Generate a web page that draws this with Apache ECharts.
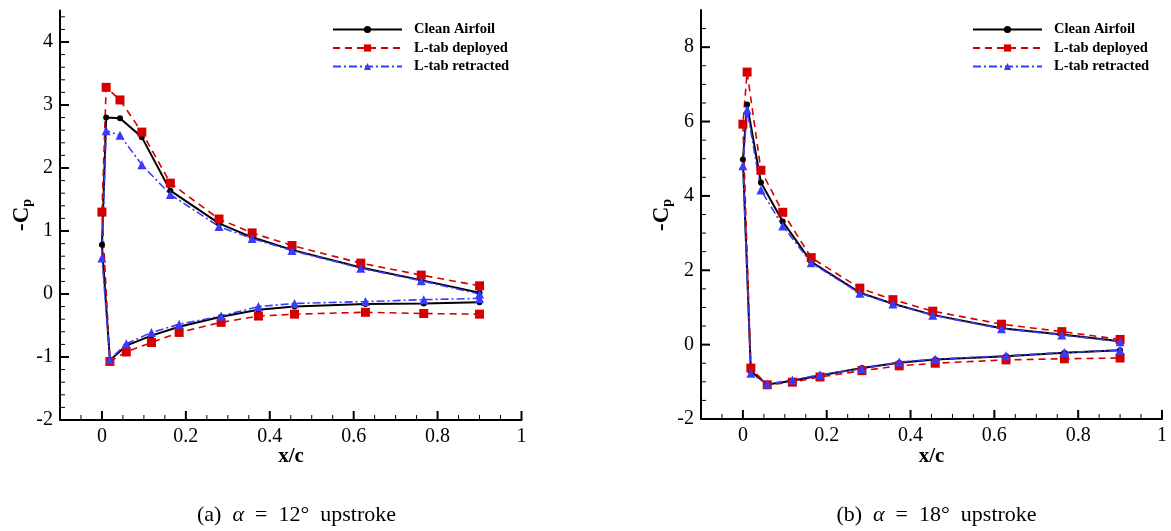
<!DOCTYPE html>
<html>
<head>
<meta charset="utf-8">
<script src="https://cdn.jsdelivr.net/npm/echarts@6/dist/echarts.min.js"></script>
<style>
  html, body { margin: 0; background: #fff; }
  #chart { width: 1171px; height: 531px; }
</style>
</head>
<body>
<div id="chart"></div>
<script>
const seriesNames = ['Clean Airfoil', 'L-tab deployed', 'L-tab retracted'];

// pressure tap x/c: upper surface TE -> LE, stagnation, lower surface LE -> TE
const xUpper = [0.9, 0.761, 0.617, 0.453, 0.358, 0.279, 0.163, 0.095, 0.043, 0.01];
const xStag = [0];
const xLower = [0.019, 0.058, 0.118, 0.184, 0.284, 0.373, 0.459, 0.628, 0.767, 0.9];

// (a) alpha = 12 deg upstroke, -Cp
const cleanA = [0.02, 0.22, 0.42, 0.70, 0.90, 1.12, 1.64, 2.49, 2.79, 2.80,
  0.78,
  -1.05, -0.82, -0.66, -0.52, -0.36, -0.25, -0.20, -0.16, -0.15, -0.13];
const deployedA = [0.13, 0.30, 0.49, 0.77, 0.97, 1.19, 1.76, 2.57, 3.08, 3.28,
  1.30,
  -1.07, -0.92, -0.77, -0.61, -0.45, -0.35, -0.32, -0.29, -0.31, -0.32];
const retractedA = [0.00, 0.21, 0.41, 0.69, 0.88, 1.07, 1.58, 2.05, 2.52, 2.59,
  0.57,
  -1.04, -0.79, -0.61, -0.48, -0.35, -0.20, -0.15, -0.12, -0.09, -0.07];

// (b) alpha = 18 deg upstroke, -Cp
const cleanB = [0.09, 0.27, 0.44, 0.80, 1.10, 1.40, 2.23, 3.31, 4.36, 6.46,
  4.98,
  -0.72, -1.07, -0.97, -0.83, -0.63, -0.49, -0.40, -0.31, -0.22, -0.15];
const deployedB = [0.14, 0.35, 0.55, 0.90, 1.21, 1.52, 2.34, 3.56, 4.69, 7.33,
  5.93,
  -0.63, -1.08, -1.01, -0.87, -0.70, -0.57, -0.50, -0.41, -0.38, -0.36];
const retractedB = [0.08, 0.26, 0.43, 0.79, 1.09, 1.38, 2.20, 3.19, 4.16, 6.31,
  4.81,
  -0.77, -1.06, -0.95, -0.81, -0.65, -0.47, -0.39, -0.30, -0.21, -0.15];

// tick positions (inward ticks, drawn through the axes' scales)
const xMajorTicks = [0, 0.2, 0.4, 0.6, 0.8, 1];
const xMinorTicks = [-0.05, 0.05, 0.1, 0.15, 0.25, 0.3, 0.35, 0.45, 0.5, 0.55,
  0.65, 0.7, 0.75, 0.85, 0.9, 0.95];
const yMajorTicksA = [-1, 0, 1, 2, 3, 4];
const yMinorTicksA = [-1.8, -1.6, -1.4, -1.2, -0.8, -0.6, -0.4, -0.2, 0.2, 0.4, 0.6, 0.8,
  1.2, 1.4, 1.6, 1.8, 2.2, 2.4, 2.6, 2.8, 3.2, 3.4, 3.6, 3.8, 4.2, 4.4];
const yMajorTicksB = [0, 2, 4, 6, 8];
const yMinorTicksB = [-1.5, -1, -0.5, 0.5, 1, 1.5, 2.5, 3, 3.5, 4.5, 5, 5.5, 6.5, 7, 7.5, 8.5];

const captions = ['(a)  {i|α}  =  12°  upstroke', '(b)  {i|α}  =  18°  upstroke'];
const xName = 'x/c';
const yName = '{a|-C}{b|p}';

const font = '"Liberation Serif", "Times New Roman", serif';
const xc = [...xUpper, ...xStag, ...xLower];
const pairs = vals => vals.map((v, i) => [xc[i], v]);

const styles = [
  { color: '#000000', symbol: 'circle', symbolSize: 6, width: 2, type: 'solid' },
  { color: '#d40000', symbol: 'rect', symbolSize: 9, width: 1.6, type: [7, 5] },
  { color: '#3a3aff', symbol: 'triangle', symbolSize: 9, width: 1.6, type: [8, 3, 2, 3] }
];

const makeSeries = (vals, k, axis) => ({
  name: seriesNames[k],
  type: 'line',
  xAxisIndex: axis,
  yAxisIndex: axis,
  data: pairs(vals),
  symbol: styles[k].symbol,
  symbolSize: styles[k].symbolSize,
  showAllSymbol: true,
  z: 3,
  itemStyle: { color: styles[k].color },
  lineStyle: { color: styles[k].color, width: styles[k].width, type: styles[k].type }
});

// short line segments at axis positions, pointing into the plot
const tickSeries = (axis, pts, dx, dy, width) => ({
  type: 'custom', xAxisIndex: axis, yAxisIndex: axis, silent: true, z: 4,
  data: pts,
  renderItem: (params, api) => {
    const p = api.coord([api.value(0), api.value(1)]);
    return {
      type: 'line',
      shape: { x1: p[0], y1: p[1], x2: p[0] + dx, y2: p[1] + dy },
      style: { stroke: '#000', lineWidth: width }
    };
  }
});
const xTicks = (axis, vals, len, w) => tickSeries(axis, vals.map(v => [v, -2]), 0, -len, w);
const yTicks = (axis, vals, len, w) => tickSeries(axis, vals.map(v => [-0.1, v]), len, 0, w);

const mainX = g => ({
  type: 'value', gridIndex: g, min: -0.1, max: 1, splitNumber: 5,
  axisLine: { show: true, onZero: false, lineStyle: { color: '#000', width: 2 } },
  axisTick: { show: false },
  axisLabel: { color: '#000', fontFamily: font, fontSize: 20, margin: 7, showMinLabel: false },
  splitLine: { show: false }
});
const mainY = (g, max, interval) => ({
  type: 'value', gridIndex: g, min: -2, max, interval,
  axisLine: { show: true, onZero: false, lineStyle: { color: '#000', width: 2 } },
  axisTick: { show: false },
  axisLabel: { color: '#000', fontFamily: font, fontSize: 20, margin: 7, showMaxLabel: false },
  splitLine: { show: false }
});

const makeLegend = left => ({
  left, top: 22, padding: 0, orient: 'vertical', itemWidth: 69, itemHeight: 9, itemGap: 3.5,
  selectedMode: false, data: seriesNames,
  textStyle: { fontFamily: font, fontWeight: 'bold', fontSize: 14.5, color: '#000', padding: [0, 0, 0, 7] }
});

const makeCaption = (text, x) => ({
  type: 'text', silent: true,
  style: {
    text, x, y: 515, align: 'center', verticalAlign: 'middle',
    fontFamily: font, fontSize: 22, fill: '#000',
    rich: { i: { fontFamily: font, fontSize: 22, fontStyle: 'italic', fill: '#000' } }
  }
});
const makeXName = x => ({
  type: 'text', silent: true,
  style: {
    text: xName, x, y: 457, align: 'center', verticalAlign: 'middle',
    fontFamily: font, fontWeight: 'bold', fontSize: 21, fill: '#000'
  }
});
const makeYName = x => ({
  type: 'text', silent: true, x, y: 215, rotation: Math.PI / 2,
  style: {
    text: yName, x: 0, y: 0, align: 'center', verticalAlign: 'middle', fill: '#000',
    rich: {
      a: { fontFamily: font, fontWeight: 'bold', fontSize: 23, fill: '#000' },
      b: { fontFamily: font, fontWeight: 'bold', fontSize: 14, fill: '#000', padding: [11, 0, 0, 0] }
    }
  }
});

const chart = echarts.init(document.getElementById('chart'), null, { renderer: 'canvas' });
chart.setOption({
  animation: false,
  backgroundColor: '#fff',
  grid: [
    { left: 60, top: 10.5, width: 461.5, height: 409.5 },
    { left: 701, top: 10, width: 461, height: 409 }
  ],
  xAxis: [mainX(0), mainX(1)],
  yAxis: [mainY(0, 4.5, 1), mainY(1, 9, 2)],
  legend: [makeLegend(332), makeLegend(972)],
  series: [
    makeSeries(cleanA, 0, 0), makeSeries(deployedA, 1, 0), makeSeries(retractedA, 2, 0),
    makeSeries(cleanB, 0, 1), makeSeries(deployedB, 1, 1), makeSeries(retractedB, 2, 1),
    xTicks(0, xMajorTicks, 9, 2), xTicks(0, xMinorTicks, 5, 1),
    yTicks(0, yMajorTicksA, 9, 2), yTicks(0, yMinorTicksA, 5, 1),
    xTicks(1, xMajorTicks, 9, 2), xTicks(1, xMinorTicks, 5, 1),
    yTicks(1, yMajorTicksB, 9, 2), yTicks(1, yMinorTicksB, 5, 1)
  ],
  graphic: [
    makeCaption(captions[0], 296.5), makeCaption(captions[1], 936.5),
    makeXName(291), makeXName(931.5),
    makeYName(22), makeYName(662)
  ]
});
</script>
</body>
</html>
